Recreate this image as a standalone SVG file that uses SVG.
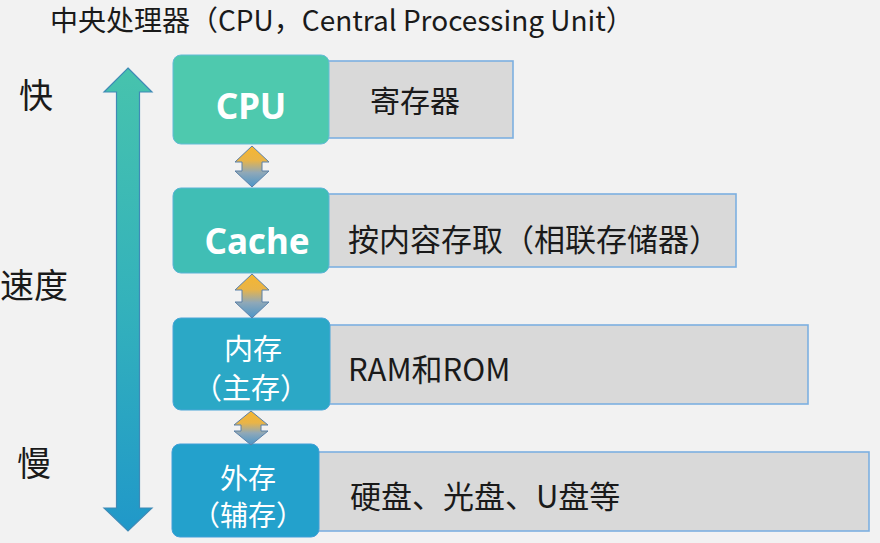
<svg xmlns="http://www.w3.org/2000/svg" width="880" height="543" viewBox="0 0 880 543">
<defs>
<linearGradient id="gBig" x1="0" y1="0" x2="0" y2="1">
<stop offset="0" stop-color="#47c3ad"/>
<stop offset="0.5" stop-color="#34b2bb"/>
<stop offset="1" stop-color="#2098c9"/>
</linearGradient>
<linearGradient id="gDbl" x1="0" y1="0" x2="0" y2="1">
<stop offset="0" stop-color="#f6b630"/>
<stop offset="0.35" stop-color="#e9b447"/>
<stop offset="0.65" stop-color="#8fa8b8"/>
<stop offset="1" stop-color="#4b95c8"/>
</linearGradient>
<style>
.bg{fill:#f2f2f2}
.gray{fill:#d9d9d9;stroke:#7cafe0;stroke-width:1.6}
.node{stroke-width:1}
.big{fill:url(#gBig);stroke:#3f8ab6;stroke-width:1.2}
.dbl{fill:url(#gDbl);stroke:#5b80a8;stroke-width:1}
.t{font-family:"Noto Sans CJK SC","Noto Sans",sans-serif;fill:#1a1a1a}
.w{font-family:"Noto Sans CJK SC","Noto Sans",sans-serif;fill:#ffffff;text-anchor:middle}
.b{font-family:"Noto Sans","Noto Sans CJK SC",sans-serif;font-weight:700;fill:#ffffff;text-anchor:middle}
</style>
</defs>
<rect class="bg" x="0" y="0" width="880" height="543"/>
<text class="t" x="50" y="31" font-size="28">中央处理器（CPU，Central Processing Unit）</text>
<g id="speed">
<path class="big" d="M128,68 L152,92 L139.5,92 L139.5,508 L152,508 L128,531 L104,508 L116.5,508 L116.5,92 L104,92 Z"/>
<text class="t" x="36" y="108" font-size="34" text-anchor="middle">快</text>
<text class="t" x="34" y="298" font-size="34" text-anchor="middle">速度</text>
<text class="t" x="34" y="476" font-size="34" text-anchor="middle">慢</text>
</g>
<g id="cpu">
<rect class="gray" x="322" y="61" width="191" height="77"/>
<rect class="node" x="173" y="55" width="156" height="89" rx="8" fill="#4ec9ae" stroke="#63bcd6"/>
<text class="b" x="251" y="119" font-size="35">CPU</text>
<text class="t" x="370" y="112" font-size="30">寄存器</text>
</g>
<g id="cache">
<rect class="gray" x="322" y="194" width="414" height="73"/>
<rect class="node" x="173" y="188" width="156" height="85" rx="8" fill="#40beb5" stroke="#5ab4d6"/>
<text class="b" x="257" y="254" font-size="35">Cache</text>
<text class="t" x="348" y="251" font-size="31">按内容存取（相联存储器）</text>
</g>
<g id="memory">
<rect class="gray" x="322" y="325" width="486" height="79"/>
<rect class="node" x="173" y="318" width="157" height="92" rx="8" fill="#2ba8c6" stroke="#4aa6d8"/>
<text class="w" x="253" y="360" font-size="29">内存</text>
<text class="w" x="251" y="399" font-size="29">（主存）</text>
<text class="t" x="348" y="381" font-size="31">RAM和ROM</text>
</g>
<g id="storage">
<rect class="gray" x="312" y="452" width="557" height="79"/>
<rect class="node" x="172" y="444" width="147" height="93" rx="8" fill="#23a1cc" stroke="#3f9fd8"/>
<text class="w" x="248" y="489" font-size="28">外存</text>
<text class="w" x="248" y="526" font-size="28">（辅存）</text>
<text class="t" x="350" y="508" font-size="31">硬盘、光盘、U盘等</text>
</g>
<g id="connectors">
<path class="dbl" d="M252,146 L269,162 L262,162 L262,171 L269,171 L252,187 L235,171 L242,171 L242,162 L235,162 Z"/>
<path class="dbl" d="M252,274 L269,290 L262,290 L262,302 L269,302 L252,318 L235,302 L242,302 L242,290 L235,290 Z"/>
<path class="dbl" d="M251,411 L268,425 L261,425 L261,431 L268,431 L251,445 L234,431 L241,431 L241,425 L234,425 Z"/>
</g>
</svg>
